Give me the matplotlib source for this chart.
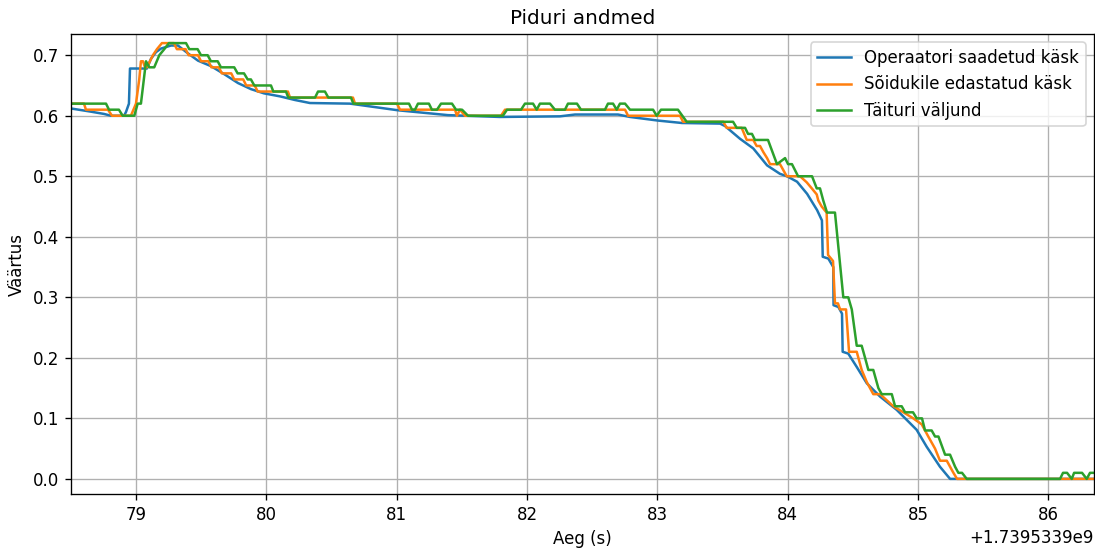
import matplotlib
matplotlib.use("Agg")
import matplotlib.pyplot as plt

# aja nihe (sekundites), teljel näidatakse +1.7395339e9
t0 = 1739533900

# operaatori saadetud käsk
t_oper = [78.500, 78.646, 78.753, 78.807, 78.907, 78.922, 78.945, 78.953, 79.083, 79.114,
          79.152, 79.191, 79.267, 79.321, 79.398, 79.475, 79.574, 79.674, 79.782, 79.881,
          79.981, 80.104, 80.219, 80.334, 80.641, 81.010, 81.393, 81.792, 82.253, 82.368,
          82.698, 82.790, 83.005, 83.189, 83.481, 83.519, 83.634, 83.736, 83.842, 83.941,
          83.995, 84.072, 84.149, 84.226, 84.263, 84.269, 84.312, 84.350, 84.352, 84.389,
          84.417, 84.422, 84.465, 84.530, 84.607, 84.709, 84.837, 84.990, 85.067, 85.169,
          85.246, 86.351]
v_oper = [0.612, 0.607, 0.603, 0.600, 0.600, 0.606, 0.620, 0.678, 0.678, 0.694,
          0.705, 0.711, 0.716, 0.716, 0.703, 0.691, 0.682, 0.669, 0.654, 0.644,
          0.637, 0.632, 0.626, 0.621, 0.620, 0.609, 0.601, 0.598, 0.599, 0.602,
          0.602, 0.598, 0.592, 0.588, 0.587, 0.583, 0.562, 0.546, 0.518, 0.504,
          0.500, 0.491, 0.471, 0.444, 0.427, 0.367, 0.364, 0.350, 0.287, 0.284,
          0.273, 0.210, 0.207, 0.185, 0.158, 0.136, 0.114, 0.081, 0.053, 0.020,
          0.000, 0.000]

# sõidukile edastatud käsk
t_edast = [78.500, 78.600, 78.615, 78.784, 78.815, 78.960, 78.999, 79.024, 79.037, 79.053,
           79.068, 79.083, 79.106, 79.129, 79.160, 79.198, 79.290, 79.313, 79.380, 79.403,
           79.475, 79.498, 79.555, 79.578, 79.635, 79.658, 79.730, 79.753, 79.822, 79.845,
           79.910, 79.933, 80.165, 80.181, 80.664, 80.680, 81.002, 81.025, 81.447, 81.462,
           81.485, 81.524, 81.800, 81.831, 82.752, 82.775, 83.174, 83.197, 83.506, 83.532,
           83.647, 83.686, 83.736, 83.762, 83.788, 83.813, 83.842, 83.865, 83.941, 83.993,
           84.095, 84.146, 84.185, 84.223, 84.235, 84.261, 84.299, 84.310, 84.348, 84.363,
           84.386, 84.402, 84.448, 84.471, 84.530, 84.568, 84.607, 84.657, 84.709, 84.760,
           84.811, 84.888, 84.964, 85.029, 85.079, 85.131, 85.169, 85.221, 85.272, 85.300,
           86.351]
v_edast = [0.62, 0.62, 0.61, 0.61, 0.60, 0.60, 0.62, 0.66, 0.69, 0.69,
           0.68, 0.68, 0.69, 0.70, 0.71, 0.72, 0.72, 0.71, 0.71, 0.70,
           0.70, 0.69, 0.69, 0.68, 0.68, 0.67, 0.67, 0.66, 0.66, 0.65,
           0.65, 0.64, 0.64, 0.63, 0.63, 0.62, 0.62, 0.61, 0.61, 0.60,
           0.61, 0.60, 0.60, 0.61, 0.61, 0.60, 0.60, 0.59, 0.59, 0.58,
           0.58, 0.56, 0.56, 0.55, 0.55, 0.54, 0.53, 0.52, 0.52, 0.50,
           0.50, 0.49, 0.48, 0.47, 0.46, 0.45, 0.44, 0.37, 0.36, 0.29,
           0.29, 0.28, 0.28, 0.21, 0.21, 0.18, 0.16, 0.14, 0.14, 0.13,
           0.12, 0.11, 0.10, 0.09, 0.07, 0.05, 0.03, 0.03, 0.01, 0.00,
           0.00]

# täituri väljund
t_taitur = [78.500, 78.769, 78.792, 78.868, 78.897, 78.986, 79.012, 79.037, 79.076, 79.101,
            79.139, 79.178, 79.216, 79.252, 79.383, 79.408, 79.472, 79.498, 79.549, 79.574,
            79.626, 79.651, 79.753, 79.779, 79.828, 79.856, 79.881, 79.907, 80.035, 80.053,
            80.150, 80.168, 80.373, 80.396, 80.449, 80.475, 80.649, 80.667, 81.094, 81.117,
            81.140, 81.163, 81.247, 81.270, 81.309, 81.340, 81.424, 81.455, 81.501, 81.547,
            81.815, 81.846, 81.954, 81.984, 82.046, 82.074, 82.099, 82.176, 82.214, 82.291,
            82.314, 82.383, 82.414, 82.598, 82.621, 82.660, 82.688, 82.713, 82.752, 82.790,
            82.967, 82.995, 83.028, 83.158, 83.225, 83.581, 83.609, 83.673, 83.696, 83.726,
            83.749, 83.849, 83.918, 83.980, 84.003, 84.033, 84.080, 84.187, 84.223, 84.248,
            84.273, 84.302, 84.363, 84.427, 84.465, 84.492, 84.530, 84.568, 84.594, 84.619,
            84.657, 84.696, 84.722, 84.799, 84.824, 84.875, 84.901, 84.962, 84.990, 85.031,
            85.054, 85.105, 85.131, 85.157, 85.208, 85.246, 85.285, 85.310, 85.338, 85.374,
            86.090, 86.113, 86.144, 86.180, 86.198, 86.259, 86.295, 86.320, 86.351]
v_taitur = [0.62, 0.62, 0.61, 0.61, 0.60, 0.60, 0.62, 0.62, 0.69, 0.68,
            0.68, 0.70, 0.71, 0.72, 0.72, 0.71, 0.71, 0.70, 0.70, 0.69,
            0.69, 0.68, 0.68, 0.67, 0.67, 0.66, 0.66, 0.65, 0.65, 0.64,
            0.64, 0.63, 0.63, 0.64, 0.64, 0.63, 0.63, 0.62, 0.62, 0.61,
            0.61, 0.62, 0.62, 0.61, 0.61, 0.62, 0.62, 0.61, 0.61, 0.60,
            0.60, 0.61, 0.61, 0.62, 0.62, 0.61, 0.62, 0.62, 0.61, 0.61,
            0.62, 0.62, 0.61, 0.61, 0.62, 0.62, 0.61, 0.62, 0.62, 0.61,
            0.61, 0.60, 0.61, 0.61, 0.59, 0.59, 0.58, 0.58, 0.57, 0.57,
            0.56, 0.56, 0.52, 0.53, 0.52, 0.52, 0.50, 0.50, 0.48, 0.48,
            0.46, 0.44, 0.44, 0.30, 0.30, 0.28, 0.22, 0.22, 0.20, 0.18,
            0.18, 0.15, 0.14, 0.14, 0.12, 0.12, 0.11, 0.11, 0.10, 0.10,
            0.08, 0.08, 0.07, 0.07, 0.04, 0.04, 0.02, 0.01, 0.01, 0.00,
            0.00, 0.01, 0.01, 0.00, 0.01, 0.01, 0.00, 0.01, 0.01]

fig = plt.figure(figsize=(9.125, 4.5667), dpi=120)
ax = fig.add_axes([0.0648, 0.0985, 0.9342, 0.8394])

ax.plot([t0 + t for t in t_oper], v_oper, label='Operaatori saadetud käsk')
ax.plot([t0 + t for t in t_edast], v_edast, label='Sõidukile edastatud käsk')
ax.plot([t0 + t for t in t_taitur], v_taitur, label='Täituri väljund')

ax.set_xlim(t0 + 78.5, t0 + 86.35)
ax.set_ylim(-0.025, 0.735)
ax.set_title('Piduri andmed')
ax.set_xlabel('Aeg (s)')
ax.set_ylabel('Väärtus')
ax.grid(True)
ax.legend(loc='upper right')

fig.savefig('out.png', dpi=120)
